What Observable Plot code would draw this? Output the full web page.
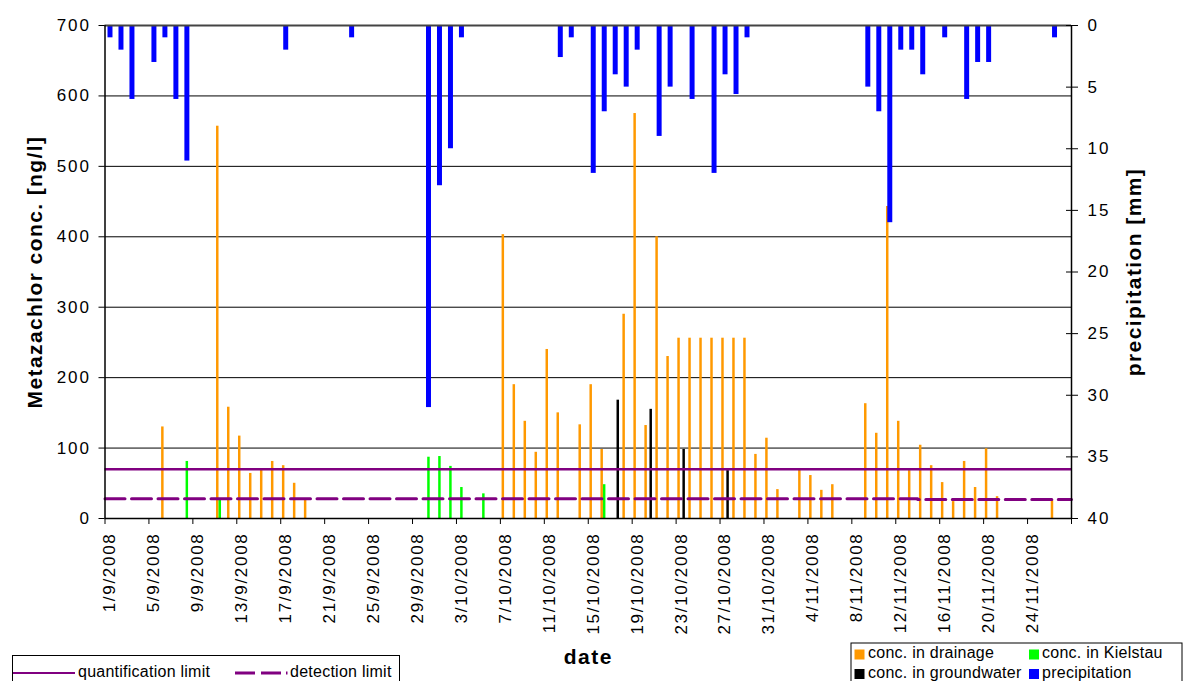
<!DOCTYPE html>
<html>
<head>
<meta charset="utf-8">
<script src="https://cdn.jsdelivr.net/npm/d3@7"></script>
<script src="https://cdn.jsdelivr.net/npm/@observablehq/plot@0.6"></script>
<style>
  body { margin: 0; background: #fff; }
  #wrap { position: relative; width: 1183px; height: 681px; overflow: hidden; background: #fff; }
  #wrap svg { position: absolute; left: 0; top: 0; }
  g[aria-label="y-axis tick label"] text { letter-spacing: 2px; }
  g[aria-label="x-axis tick label"] text { letter-spacing: 1.7px; }
  #legend text { font-family: "Liberation Sans", Arial, sans-serif; font-size: 16px; letter-spacing: 0.25px; }
</style>
</head>
<body>
<div id="wrap"></div>
<script>
// ---- data ----
const drainageDates = ["2008-09-06","2008-09-11","2008-09-12","2008-09-13","2008-09-14","2008-09-15","2008-09-16","2008-09-17","2008-09-18","2008-09-19",
  "2008-10-07","2008-10-08","2008-10-09","2008-10-10","2008-10-11","2008-10-12","2008-10-14","2008-10-15","2008-10-16","2008-10-18",
  "2008-10-19","2008-10-20","2008-10-21","2008-10-22","2008-10-23","2008-10-24","2008-10-25","2008-10-26","2008-10-27","2008-10-28",
  "2008-10-29","2008-10-30","2008-10-31","2008-11-01","2008-11-03","2008-11-04","2008-11-05","2008-11-06","2008-11-09","2008-11-10",
  "2008-11-11","2008-11-12","2008-11-13","2008-11-14","2008-11-15","2008-11-16","2008-11-17","2008-11-18","2008-11-19","2008-11-20",
  "2008-11-21","2008-11-26"];
const drainageValues = [130,557,158,117,64,69,81,75,50,27,
  403,190,138,94,240,150,133,190,98,290,
  575,132,400,230,256,256,256,256,256,256,
  256,91,114,41,70,61,40,48,163,121,
  443,138,68,104,75,51,24,81,44,99,
  31,26];

const kielstauDates = ["2008-09-08","2008-09-11","2008-09-30","2008-10-01","2008-10-02","2008-10-03","2008-10-05","2008-10-16"];
const kielstauValues = [81,26,87,88,74,44,35,48];

const groundwaterDates = ["2008-10-17","2008-10-20","2008-10-23","2008-10-27"];
const groundwaterValues = [168,155,98,68];

const precipDates = ["2008-09-01","2008-09-02","2008-09-03","2008-09-05","2008-09-06","2008-09-07","2008-09-08","2008-09-17","2008-09-23",
  "2008-09-30","2008-10-01","2008-10-02","2008-10-03","2008-10-12","2008-10-13","2008-10-15","2008-10-16","2008-10-17","2008-10-18",
  "2008-10-19","2008-10-21","2008-10-22","2008-10-24","2008-10-26","2008-10-27","2008-10-28","2008-10-29",
  "2008-11-09","2008-11-10","2008-11-11","2008-11-12","2008-11-13","2008-11-14","2008-11-16","2008-11-18","2008-11-19","2008-11-20","2008-11-26"];
const precipValues = [1,2,6,3,1,6,11,2,1,
  31,13,10,1,2.6,1,12,7,4,5,
  2,9,5,6,12,4,5.6,1,
  5,7,16,2,2,4,1,6,3,3,1];

const quantificationLimit = 70;
const detectionDates = ["2008-09-01","2008-11-14","2008-11-28"];
const detectionValues = [28,27,27];

const tickDates = ["2008-09-01","2008-09-05","2008-09-09","2008-09-13","2008-09-17","2008-09-21","2008-09-25","2008-09-29",
  "2008-10-03","2008-10-07","2008-10-11","2008-10-15","2008-10-19","2008-10-23","2008-10-27","2008-10-31",
  "2008-11-04","2008-11-08","2008-11-12","2008-11-16","2008-11-20","2008-11-24","2008-11-28"];
const tickLabels = ["1/9/2008","5/9/2008","9/9/2008","13/9/2008","17/9/2008","21/9/2008","25/9/2008","29/9/2008",
  "3/10/2008","7/10/2008","11/10/2008","15/10/2008","19/10/2008","23/10/2008","27/10/2008","31/10/2008",
  "4/11/2008","8/11/2008","12/11/2008","16/11/2008","20/11/2008","24/11/2008",""];
const concTicks = [0,100,200,300,400,500,600,700];
const precipTicks = [0,5,10,15,20,25,30,35,40];
const yTitle = "Metazachlor conc. [ng/l]";
const y2Title = "precipitation [mm]";
const xTitle = "date";

// ---- build ----
const concMax = 700, precipMax = 40;
const precipToY = mm => concMax - mm * concMax / precipMax;
const yToPrecip = v => Math.round((concMax - v) * precipMax / concMax);

const rows = (dates, values) => dates.map((d, i) => ({date: new Date(d), value: values[i]}));
const drainage = rows(drainageDates, drainageValues);
const kielstau = rows(kielstauDates, kielstauValues);
const groundwater = rows(groundwaterDates, groundwaterValues);
const precip = rows(precipDates, precipValues);
const detection = rows(detectionDates, detectionValues);
const nextDay = d => d3.utcDay.offset(d.date, 1);
const ticks = tickDates.map(d => new Date(d));
const labelOf = new Map(ticks.map((d, i) => [+d, tickLabels[i]]));

const xStart = new Date("2008-09-01"), xEnd = new Date("2008-11-28");

const chart = Plot.plot({
  width: 1183,
  height: 681,
  marginLeft: 104.5,
  marginRight: 112,
  marginTop: 25,
  marginBottom: 163,
  style: {fontFamily: "Liberation Sans, Arial, sans-serif", fontSize: "17px", color: "black", background: "white"},
  x: {type: "utc", domain: [xStart, xEnd]},
  y: {domain: [0, concMax]},
  marks: [
    Plot.ruleY(concTicks.filter(v => v > 0 && v < concMax), {stroke: "#000", strokeWidth: 1}),
    Plot.rect(drainage, {x1: "date", x2: nextDay, y1: 0, y2: "value", fill: "#FF9900", insetLeft: 1.7, insetRight: 6.8}),
    Plot.rect(kielstau, {x1: "date", x2: nextDay, y1: 0, y2: "value", fill: "#00FF00", insetLeft: 4.2, insetRight: 4.3}),
    Plot.rect(groundwater, {x1: "date", x2: nextDay, y1: 0, y2: "value", fill: "#000000", insetLeft: 6.8, insetRight: 1.7}),
    Plot.rect(precip, {x1: "date", x2: nextDay, y1: () => precipToY(0), y2: d => precipToY(d.value), fill: "#0000FF", insetLeft: 3, insetRight: 3}),
    Plot.ruleY([quantificationLimit], {stroke: "#800080", strokeWidth: 2.5}),
    Plot.lineY(detection, {x: "date", y: "value", curve: "step-after", stroke: "#800080", strokeWidth: 3, strokeDasharray: "20,6.5"}),
    Plot.ruleY([concMax], {stroke: "#444", strokeWidth: 2}),
    Plot.ruleY([0], {stroke: "#000", strokeWidth: 1.5}),
    Plot.ruleX([xStart], {stroke: "#000", strokeWidth: 1.5}),
    Plot.ruleX([xEnd], {stroke: "#000", strokeWidth: 1.5}),
    // left axis
    Plot.axisY(concTicks, {anchor: "left", tickSize: 6, tickPadding: 8, fontSize: 17, label: null}),
    // right axis (precipitation, reversed)
    Plot.axisY(precipTicks.map(precipToY), {anchor: "right", tickSize: 12, dx: -6, tickFormat: () => "", label: null}),
    Plot.axisY(precipTicks.map(precipToY), {anchor: "right", tickSize: 0, tickPadding: 16, tickFormat: yToPrecip, fontSize: 17, label: null}),
    // x axis
    Plot.axisX(ticks, {anchor: "bottom", tickSize: 6, tickFormat: () => "", label: null}),
    Plot.axisX(ticks, {anchor: "bottom", tickSize: 0, tickPadding: 14, tickRotate: -90, dx: 5, tickFormat: d => labelOf.get(+d), fontSize: 17, label: null}),
    // titles
    Plot.text([yTitle], {text: d => d, frameAnchor: "left", textAnchor: "middle", dx: -70, rotate: -90, fontSize: 21, fontWeight: "bold"}),
    Plot.text([y2Title], {text: d => d, frameAnchor: "right", textAnchor: "middle", dx: 63, rotate: -90, fontSize: 21, fontWeight: "bold"}),
    Plot.text([xTitle], {text: d => d, frameAnchor: "bottom", dy: 145, fontSize: 21, fontWeight: "bold"})
  ]
});

// slightly wider spacing on the bold titles, as in the reference rendering
d3.select(chart).selectAll("text")
  .filter(function() { return [yTitle, y2Title, xTitle].includes(this.textContent); })
  .style("letter-spacing", function() { return this.textContent === xTitle ? "1.5px" : "1.4px"; });

const wrap = document.getElementById("wrap");
wrap.appendChild(chart);

// legends (below the axis area)
const legend = `
<svg id="legend" width="1183" height="681" xmlns="http://www.w3.org/2000/svg">
  <rect x="12.5" y="655.5" width="387" height="40" fill="white" stroke="black" stroke-width="1"/>
  <line x1="13" x2="75" y1="673" y2="673" stroke="#800080" stroke-width="2"/>
  <text x="78" y="677">quantification limit</text>
  <line x1="235" x2="288" y1="673" y2="673" stroke="#800080" stroke-width="3" stroke-dasharray="20,6,20,5,1.5,10"/>
  <text x="290" y="677">detection limit</text>
  <rect x="851" y="643" width="331" height="45" fill="white" stroke="black" stroke-width="1"/>
  <rect x="854.5" y="649.5" width="10" height="10" fill="#FF9900"/>
  <text x="868" y="658">conc. in drainage</text>
  <rect x="1029" y="649.5" width="10" height="10" fill="#00FF00"/>
  <text x="1042" y="658">conc. in Kielstau</text>
  <rect x="854.5" y="669" width="10" height="10" fill="#000000"/>
  <text x="868" y="678">conc. in groundwater</text>
  <rect x="1029" y="669" width="10" height="10" fill="#0000FF"/>
  <text x="1042" y="678">precipitation</text>
</svg>`;
wrap.insertAdjacentHTML("beforeend", legend);
</script>
</body>
</html>
